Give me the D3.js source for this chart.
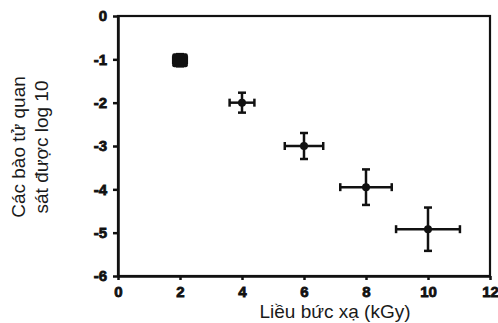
<!DOCTYPE html>
<html>
<head>
<meta charset="utf-8">
<script src="https://cdn.jsdelivr.net/npm/d3@7"></script>
<style>
  body { margin: 0; background: #fff; }
  svg { display: block; font-family: "Liberation Sans", Arial, sans-serif; }
  .tick text { font-weight: 700; font-family: Arial, "Liberation Sans", sans-serif; }
</style>
</head>
<body>
<figure id="chart" style="margin:0"></figure>
<script>
// dose (kGy), log10 survivors, and error half-widths
const doses = [2, 4, 6, 8, 10];
const logSurvivors = [-1.02, -2.0, -3.0, -3.95, -4.92];
const doseErr = [0.22, 0.4, 0.62, 0.83, 1.03];
const survErr = [0.14, 0.23, 0.3, 0.41, 0.5];
const xTicks = [0, 2, 4, 6, 8, 10, 12];
const yTicks = [0, -1, -2, -3, -4, -5, -6];

const width = 498, height = 323;
const plotLeft = 118, plotRight = 490, plotTop = 16, plotBottom = 276;

const svg = d3.select('figure#chart')
  .append('svg')
  .attr('width', width)
  .attr('height', height);

const x = d3.scaleLinear().domain([0, 12]).range([plotLeft, plotRight]);
const y = d3.scaleLinear().domain([-6, 0]).range([plotBottom, plotTop]);

// frame
svg.append('rect')
  .attr('x', plotLeft).attr('y', plotTop)
  .attr('width', plotRight - plotLeft).attr('height', plotBottom - plotTop)
  .attr('fill', 'none')
  .attr('stroke', '#111')
  .attr('stroke-width', 2.2);

const xAxis = svg.append('g')
  .attr('transform', 'translate(0,' + plotBottom + ')')
  .call(d3.axisBottom(x).tickValues(xTicks).tickSize(4).tickSizeOuter(0).tickPadding(6).tickFormat(d => String(d)));

const yAxis = svg.append('g')
  .attr('transform', 'translate(' + plotLeft + ',0)')
  .call(d3.axisLeft(y).tickValues(yTicks).tickSize(5).tickSizeOuter(0).tickPadding(6).tickFormat(d => String(d)));

[xAxis, yAxis].forEach(g => {
  g.attr('font-size', 15);
  g.select('.domain').attr('stroke', '#111').attr('stroke-width', 2.5);
  g.selectAll('.tick line').attr('stroke', '#111').attr('stroke-width', 2.5);
  // heavy scanned-look digits
  g.selectAll('.tick text')
    .attr('fill', '#111')
    .attr('stroke', '#111')
    .attr('stroke-width', 0.8)
    .style('font-weight', '700');
});

// axis titles
svg.append('text')
  .attr('x', 335).attr('y', 318)
  .attr('text-anchor', 'middle')
  .attr('font-size', 19)
  .attr('fill', '#1a1a1a')
  .text('Liều bức xạ (kGy)');

const yTitle = svg.append('text')
  .attr('transform', 'translate(0,147) rotate(-90)')
  .attr('text-anchor', 'middle')
  .attr('font-size', 19)
  .attr('fill', '#1a1a1a');
yTitle.append('tspan').attr('x', 0).attr('y', 25).text('Các bào tử quan');
yTitle.append('tspan').attr('x', 0).attr('y', 48).text('sát được log 10');

// error bars
const points = doses.map((d, i) => ({ x: d, y: logSurvivors[i], xe: doseErr[i], ye: survErr[i] }));
const cap = 4;
const g = svg.append('g').attr('stroke', '#111').attr('stroke-width', 2.5).attr('fill', '#111');

points.forEach(p => {
  const cx = x(p.x), cy = y(p.y);
  const x0 = x(p.x - p.xe), x1 = x(p.x + p.xe);
  const y0 = y(p.y - p.ye), y1 = y(p.y + p.ye);
  g.append('line').attr('x1', x0).attr('x2', x1).attr('y1', cy).attr('y2', cy);
  g.append('line').attr('x1', cx).attr('x2', cx).attr('y1', y0).attr('y2', y1);
  [x0, x1].forEach(xx => g.append('line').attr('x1', xx).attr('x2', xx).attr('y1', cy - cap).attr('y2', cy + cap));
  [y0, y1].forEach(yy => g.append('line').attr('x1', cx - cap).attr('x2', cx + cap).attr('y1', yy).attr('y2', yy));
  g.append('circle').attr('cx', cx).attr('cy', cy).attr('r', 4).attr('stroke', 'none');
});

// first point appears as a solid block
const p0 = points[0];
g.append('rect')
  .attr('x', x(p0.x - p0.xe) - 1).attr('y', y(p0.y + p0.ye) - 1)
  .attr('width', x(p0.x + p0.xe) - x(p0.x - p0.xe) + 2)
  .attr('height', y(p0.y - p0.ye) - y(p0.y + p0.ye) + 2)
  .attr('rx', 2).attr('stroke', 'none');
</script>
</body>
</html>
